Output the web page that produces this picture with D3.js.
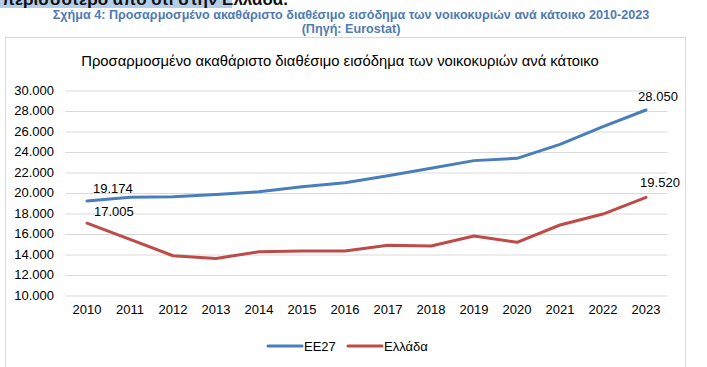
<!DOCTYPE html>
<html>
<head>
<meta charset="utf-8">
<script src="https://cdn.jsdelivr.net/npm/d3@7"></script>
<style>
  body { margin: 0; background: #fff; }
  svg { display: block; font-family: "Liberation Sans", Arial, sans-serif; }
</style>
</head>
<body>
<div id="chart"></div>
<script>
// data
var years = [2010, 2011, 2012, 2013, 2014, 2015, 2016, 2017, 2018, 2019, 2020, 2021, 2022, 2023];
var eu27 = [19174, 19530, 19590, 19800, 20080, 20550, 20960, 21640, 22360, 23110, 23330, 24700, 26420, 28050];
var greece = [17005, 15430, 13830, 13570, 14220, 14290, 14300, 14850, 14780, 15760, 15140, 16830, 17900, 19520];
var yTicks = [10000, 12000, 14000, 16000, 18000, 20000, 22000, 24000, 26000, 28000, 30000];
var seriesNames = ["ΕΕ27", "Ελλάδα"];
var seriesColors = ["#4a7ebb", "#be4b48"];

var width = 707, height = 367;
var fmt = function (v) { return d3.format(",.0f")(v).replace(/,/g, "."); };

var svg = d3.select("#chart").append("svg")
    .attr("width", width)
    .attr("height", height);

// cut-off line of text above the figure caption
svg.append("rect")
    .attr("x", 0).attr("y", 0)
    .attr("width", 232).attr("height", 8)
    .attr("fill", "#b4cde8");
svg.append("text")
    .attr("x", 2).attr("y", 5)
    .attr("font-size", 17).attr("font-weight", "bold")
    .attr("fill", "#111")
    .text("περισσότερο από ότι στην Ελλάδα.");

// caption
svg.append("text")
    .attr("x", 351).attr("y", 19)
    .attr("text-anchor", "middle")
    .attr("font-size", 12.6).attr("font-weight", "bold")
    .attr("fill", "#4f7bb5")
    .text("Σχήμα 4: Προσαρμοσμένο ακαθάριστο διαθέσιμο εισόδημα των νοικοκυριών ανά κάτοικο 2010-2023");
svg.append("text")
    .attr("x", 351).attr("y", 33)
    .attr("text-anchor", "middle")
    .attr("font-size", 12.6).attr("font-weight", "bold")
    .attr("fill", "#4f7bb5")
    .text("(Πηγή: Eurostat)");

// chart frame
svg.append("rect")
    .attr("x", 5.5).attr("y", 37.5)
    .attr("width", 680).attr("height", 340)
    .attr("fill", "#fff")
    .attr("stroke", "#d9d9d9");

svg.append("text")
    .attr("x", 340).attr("y", 66)
    .attr("text-anchor", "middle")
    .attr("font-size", 14.8)
    .attr("fill", "#000")
    .text("Προσαρμοσμένο ακαθάριστο διαθέσιμο εισόδημα των νοικοκυριών ανά κάτοικο");

var x = d3.scaleBand().domain(years).range([65.5, 667.5]);
var y = d3.scaleLinear().domain([10000, 30000]).range([295, 90]);

// gridlines
var grid = svg.append("g")
    .attr("transform", "translate(65.5,0)")
    .call(d3.axisLeft(y).tickValues(yTicks).tickSize(-602).tickFormat(""));
grid.select(".domain").remove();
grid.selectAll("line").attr("stroke", "#d9d9d9").attr("stroke-width", 1)
    .attr("transform", "translate(0,0.5)");

// y axis labels
var yAxis = svg.append("g")
    .attr("transform", "translate(54,0)")
    .call(d3.axisLeft(y).tickValues(yTicks).tickSize(0).tickPadding(0).tickFormat(fmt));
yAxis.select(".domain").remove();
yAxis.selectAll("text").attr("font-size", 13).attr("fill", "#000")
    .attr("font-family", "Liberation Sans, Arial, sans-serif");

// x axis labels
var xAxis = svg.append("g")
    .attr("transform", "translate(0,305)")
    .call(d3.axisBottom(x).tickSize(0).tickPadding(0));
xAxis.select(".domain").remove();
xAxis.selectAll("text").attr("font-size", 13).attr("fill", "#000")
    .attr("font-family", "Liberation Sans, Arial, sans-serif");

var line = d3.line()
    .x(function (d, i) { return x(years[i]) + x.bandwidth() / 2; })
    .y(function (d) { return y(d); });

[eu27, greece].forEach(function (s, k) {
    svg.append("path")
        .datum(s)
        .attr("fill", "none")
        .attr("stroke", seriesColors[k])
        .attr("stroke-width", 3)
        .attr("stroke-linejoin", "round")
        .attr("stroke-linecap", "round")
        .attr("d", line);
});

// value labels on first and last points
var cx = function (i) { return x(years[i]) + x.bandwidth() / 2; };
var labels = [
    { v: eu27[0], x: cx(0) + 6, y: y(eu27[0]) - 8, anchor: "start" },
    { v: greece[0], x: cx(0) + 7, y: y(greece[0]) - 7, anchor: "start" },
    { v: eu27[13], x: cx(13) + 12, y: y(eu27[13]) - 9, anchor: "middle" },
    { v: greece[13], x: cx(13) + 14, y: y(greece[13]) - 10, anchor: "middle" }
];
svg.selectAll(".vlabel").data(labels).enter().append("text")
    .attr("class", "vlabel")
    .attr("x", function (d) { return d.x; })
    .attr("y", function (d) { return d.y; })
    .attr("text-anchor", function (d) { return d.anchor; })
    .attr("font-size", 13)
    .attr("fill", "#000")
    .text(function (d) { return fmt(d.v); });

// legend
var legend = svg.append("g").attr("transform", "translate(268,346)");
var lx = [0, 80];
seriesNames.forEach(function (n, k) {
    var g = legend.append("g").attr("transform", "translate(" + lx[k] + ",0)");
    g.append("line")
        .attr("x1", 0).attr("x2", 34)
        .attr("y1", 0).attr("y2", 0)
        .attr("stroke", seriesColors[k])
        .attr("stroke-width", 3)
        .attr("stroke-linecap", "round");
    g.append("text")
        .attr("x", 36).attr("y", 4.5)
        .attr("font-size", 13)
        .attr("fill", "#000")
        .text(n);
});
</script>
</body>
</html>
